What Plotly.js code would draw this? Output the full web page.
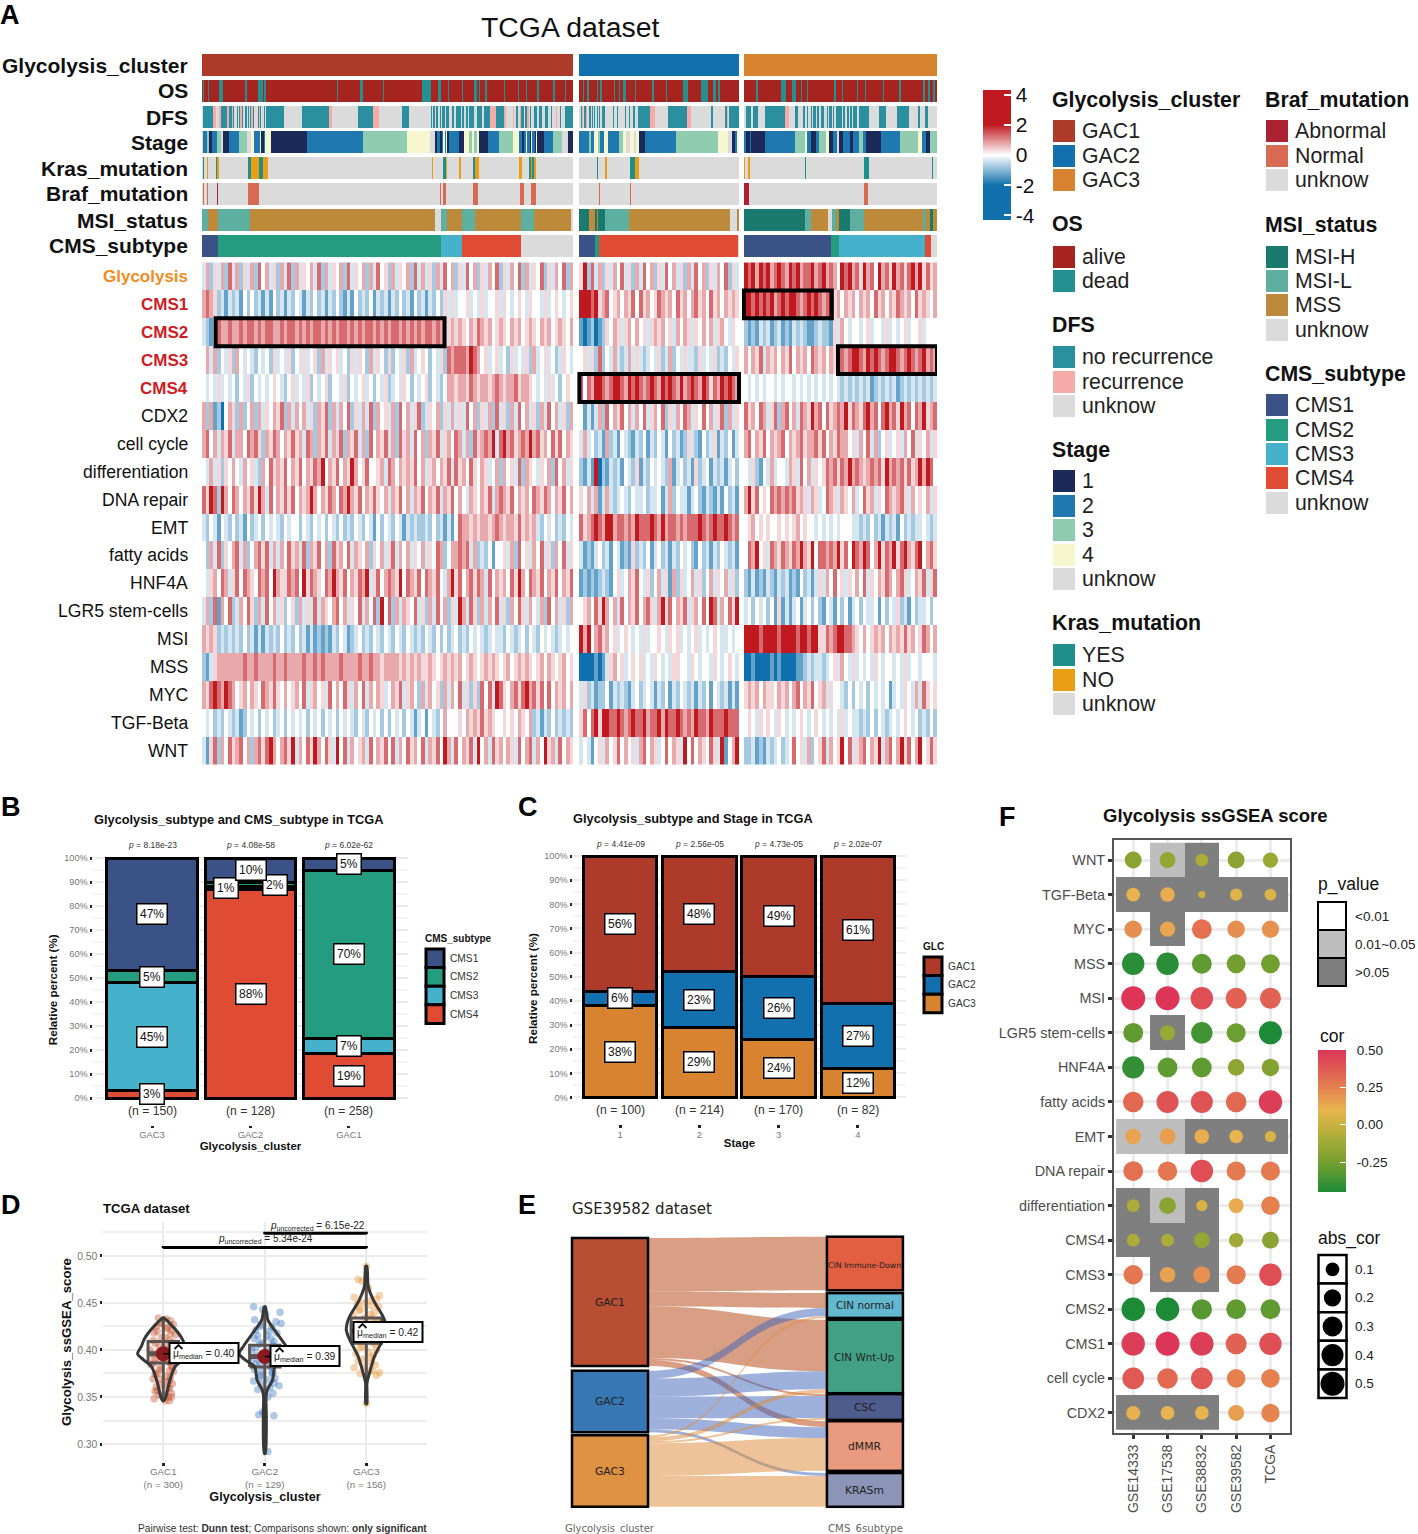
<!DOCTYPE html>
<html><head><meta charset="utf-8">
<script src="https://cdn.plot.ly/plotly-3.0.1.min.js"></script>
<style>html,body{margin:0;padding:0;background:#fff}</style></head>
<body><div id="chart" style="width:1418px;height:1534px"></div>
<script>
const W=1418,H=1534,FONT='"Liberation Sans",Arial,sans-serif';
/* ---------- Panel A data ---------- */
const clusterSizes=[300,129,156];
const annotRowNames=["Glycolysis_cluster","OS","DFS","Stage","Kras_mutation","Braf_mutation","MSI_status","CMS_subtype"];
const annotColors={
 "Glycolysis_cluster":{A:"#AE3B2A",B:"#1170AD",C:"#D88330"},
 "OS":{a:"#A62420",d:"#23918F"},
 "DFS":{n:"#2A909F",r:"#F5ABA8",u:"#DBDBDB"},
 "Stage":{A:"#1B2A58",B:"#1F78B0",C:"#90CDB0",D:"#F6F7CF",u:"#DBDBDB"},
 "Kras_mutation":{y:"#1F8F8A",n:"#EA9D16",u:"#DBDBDB"},
 "Braf_mutation":{a:"#AD2233",n:"#D66A53",u:"#DBDBDB"},
 "MSI_status":{h:"#1B7A6E",l:"#5EAFA0",s:"#BD8A3C",u:"#DBDBDB"},
 "CMS_subtype":{p:"#3A5285",q:"#249C80",r:"#46B1CB",t:"#DF4B33",u:"#DBDBDB"}};
const glycRuns=["A300","B129","C156"];
const osRuns=["a1 d1 a3 d1 a8 d3 a18 d1 a9 d4 a1 d2 a57 d1 a18 d2 a16 d1 a31 d7 a6 d2 a6 d1 a10 d1 a9 d2 a2 d1 a4 d1 a14 d1 a10 d1 a6 d1 a8 d1 a12 d1 a8 d1 a20",
 "a3 d1 a2 d2 a6 d1 a2 d1 a10 d1 a3 d1 a2 d3 a7 d1 a13 d1 a10 d1 a13 d4 a10 d6 a4 d2 a2 d2 a30",
 "a10 d1 a19 d4 a5 d3 a4 d1 a4 d1 a21 d1 a5 d1 a11 d1 a6 d1 a13 d1 a12 d2 a18 d1 a3 d1 a3 d1 a5"];
const dfsRuns=["u1 n8 r2 u3 r1 n5 r2 n2 r1 n1 u2 n1 u1 n1 r1 n1 u2 n1 u1 n1 u1 n1 r1 n1 u3 n1 r1 n1 u2 n1 u1 n14 u15 n22 r2 u21 n12 r5 u19 n5 u18 n1 u1 n1 u1 n2 u1 n1 u1 n2 u1 n2 n1 u2 n2 u1 n4 u1 n2 u1 n2 u1 n4 u2 n4 u2 n5 r5 n6 r2 u5 r1 u2 n1 u2 r1 n2 u1 n2 r1 u1 n1 u2 n3 u1 n3 u2 n3 u2 n1 u3 r1 u2 n1 u3 n1",
 "u1 n1 r1 u1 n1 r1 u2 n1 u1 n1 u1 n1 u1 n1 u1 n1 u1 n3 u6 n1 u2 n1 u6 n1 u2 n1 u2 n2 u2 n10 r4 u11 n15 r3 u16 n2 u10 n1 r1 u1 n1",
 "u2 n4 u1 n4 u6 n16 r3 u5 n3 u4 n1 u2 n1 u2 n1 u1 n2 u1 n2 u1 n3 u2 n1 u1 n2 u1 n1 u1 n5 u1 n2 u1 n2 u1 n1 u1 n3 u2 n8 u8 n6 u9 n9 u8 n1 u4 n3 u2"];
const stageRuns=["u1 B3 C2 A2 B4 C3 u2 A5 B8 C6 u4 D2 B5 D1 A2 B1 D1 D4 A29 B45 C36 D18 u4 A2 B2 A2 B1 D1 B1 D1 A2 B8 A4 D1 D3 C2 D2 C2 D2 A7 B9 C11 D5 B3 A1 B2 D1 B2 A1 D1 B2 A1 D1 A5 B8 C7 u5 A2",
 "B8 C1 B3 D3 C2 B3 D3 B9 C3 D3 u3 D3 u2 D2 A5 B25 C34 D8 u3 A3 B1 D3",
 "B2 A3 B1 A11 B24 C8 D2 B3 A4 B3 C5 D3 A3 B3 u2 A3 B6 A2 B5 C3 B3 A12 B15 C15 D3 B3 A3 C2"];
const krasRuns=["u1 y1 u2 n1 u6 y1 n2 u23 y3 n6 y3 n4 u133 n1 u8 y2 n1 u10 n1 u10 y2 n3 u32 n3 u5 y2 n1 y1 n2 u30",
 "u14 y1 u6 n1 u19 y4 n3 u81","n1 u2 n2 u44 y1 u47 y4 u51 y1 u3"];
const brafRuns=["u1 n1 u2 n1 u7 a1 u24 n9 u146 n1 u2 n2 u22 n4 u34 n3 u6 n4 u30","u16 n1 u24 n1 u87","a4 u93 n3 u56"];
const msiRuns=["l5 s8 l26 s149 u5 l5 s12 l11 s37 l10 s30 u2","h8 s5 h1 s1 h6 l19 s82 u5 s2","h49 l5 s14 u3 l3 s3 h9 l11 s48 l2 s3 h3 s3"];
const cmsRuns=["p13 q180 r17 t48 u42","p13 q3 t112 u1","p70 q7 r69 t5 u5"];
const annotRuns=[glycRuns,osRuns,dfsRuns,stageRuns,krasRuns,brafRuns,msiRuns,cmsRuns];

const heatRowNames=["Glycolysis","CMS1","CMS2","CMS3","CMS4","CDX2","cell cycle","differentiation","DNA repair","EMT","fatty acids","HNF4A","LGR5 stem-cells","MSI","MSS","MYC","TGF-Beta","WNT"];
/* one digit per three samples: 0 = strong blue, 4 = white, 8 = strong red */
const heatLevels=[-2,-1.3,-.75,-.35,0,.35,.75,1.3,2];
const heatGAC1=[
"3625362736 2536274635 2637263546 3726354627 3546263745 2635462736 3526374625 3746253647 2536472635 4725364726",
"6765231323 1424231314 2313243132 4231324213 1423241323 1324231423 1324253534 4534353445 3543454354 4353454345",
"3213766766 7677676776 6767767676 7767676776 7676776767 6776767676 7767655656 5465765645 6546564565 4656456546",
"4636243526 4343243425 3435243534 5263545342 5354263542 5243526345 4243527677 7687645345 3425343526 3453423543",
"4343534342 4352434345 4324534352 4345244352 4345342435 2343542434 5243246656 6576566567 6566756654 3435342454",
"6261204652 6246263546 5726364635 2657263647 2536372645 3627463572 3546253635 3746253627 3526374635 2637463526",
"6746365736 6476752657 6465756376 2657365726 5736274657 3627563746 2657356476 3627567683 7867567686 7564757465",
"4363525464 3645326475 6574657465 7684657465 8645744563 7646565746 3564657375 6475465346 2645372654 3546274635",
"7587286476 4657586374 6575746568 6465764768 6574657546 3657463657 4657365746 4365465736 7657465647 6576465746",
"3243143242 3142342434 3243442432 4342432423 2432431424 3243132322 3242313147 6656566567 6566575656 3243423243",
"4263725467 3624675736 3647563726 5746275647 3654625463 5736463546 3547624667 6736232414 4536274536 4735264735",
"4356476357 4765476748 6557674857 6547686574 6576835746 7658476574 7657436857 4675763746 5647586476 5746574657",
"3627164723 6475263746 3524526353 7365467463 5473647284 7263654735 2637462538 6375263647 3526475364 3627463526",
"6565232323 2423131323 2423242313 1212132431 2342324324 3243243232 4324242342 3243432343 3243234243 2434323434",
"2135666666 6766766667 6676666766 7676666766 6676676656 6665656565 5654565656 4565456565 4564565654 5646545645",
"6578768764 5646547657 5464564735 6453746475 3647364653 4657356426 3645263647 3525274738 7546757867 5747465646",
"4342324323 1243424342 3424343424 3424342434 3243243424 2434243134 1432464445 4656575654 4545465462 3132423232",
"3157264756 7462675786 4675836475 8647538473 6456374657 4736475647 3657486374 6573846375 6465374673 6485637465"];
const heatGAC2=[
"5827362536 4735263746 2537463526 3746253647 253",
"8887856745 6465747564 5765647564 6756475646 565",
"1012012546 5356464535 6564536465 3546463564 354",
"4535272436 3236353234 3523624353 3253435232 435",
"7476887678 8768787678 7687876867 8768757687 876",
"4131362746 5746364735 6472536476 3547463572 635",
"3634231623 1432132413 2431423125 3214235132 413",
"2131802132 3143251324 3432613423 1523413231 342",
"5463613632 3432433423 3413624331 3421321314 231",
"7567876886 7767687778 7686776767 7787678778 767",
"3121342314 3121523241 3423132434 2142313243 231",
"1212123214 5346574352 4635162534 6352463546 352",
"4564758646 3746574675 3685746573 5647487364 758",
"8684675645 3454343534 4543545343 4534345433 434",
"0000101356 4534545343 5434355443 5434435434 543",
"3523122413 2321342343 1324132432 3132414323 131",
"5747858877 8767877867 7868778767 6877687778 777",
"3431453645 7464536746 5347465384 7465475381 468"];
const heatGAC3=[
"8786878678 7687867786 7867648786 7586748675 8675786857 56",
"8878787867 8788767878 7678564656 4656475646 5765647565 46",
"2121323123 1213232112 3221536434 4345344353 4345344534 44",
"6465736564 6574656476 5646587678 8768787678 8767876786 76",
"4343434434 3443434343 4343432323 2323123232 3123232323 23",
"7564763572 6746376586 7475676857 6578674786 7586747685 67",
"6746574656 7465675667 5746576645 3647362453 4536473546 35",
"4352143634 4365374635 4576757686 7656767586 7675756868 74",
"6857454767 6767565365 3476536546 3475635476 5675364546 35",
"4564545445 4545645443 4343434443 3232423132 3142323343 23",
"4768453765 7657686584 7767685748 7687468576 8578657846 75",
"2131213213 2312142313 5364745354 6473546576 4675346573 57",
"3424342415 1313413424 2143142413 4243341424 3523142334 24",
"8888788887 8888788788 5576788776 5464565646 5657564576 46",
"0010000101 0000112323 3234536435 3434354344 3435344344 43",
"5656465546 5646746574 5635443242 4342434341 3435436375 45",
"4543545435 4343454345 4343435343 3232424323 4345434232 42",
"2231213234 2347453624 5736458473 5674658367 4685746845 75"];
const heatBoxes=[{row:"CMS2",from:11,to:196,cluster:0},{row:"CMS4",from:0,to:129,cluster:1},{row:"CMS1",from:0,to:71,cluster:2},{row:"CMS3",from:76,to:156,cluster:2}];

/* ---------- Panels B, C ---------- */
const bCategories=["GAC3","GAC2","GAC1"];
const bSeries=["CMS4","CMS3","CMS2","CMS1"];
const bColors=["#DF4B33","#46B1CB","#249C80","#3A5285"];
const bValues=[[3,87,18.5],[45,1,6.5],[5,2,70],[47,10,5]];
const bLabels=[[3,88,19],[45,1,7],[5,2,70],[47,10,5]];
const bN=["(n = 150)","(n = 128)","(n = 258)"];
const bP=["8.18e-23","4.08e-58","6.02e-62"];
const cCategories=["1","2","3","4"];
const cSeries=["GAC3","GAC2","GAC1"];
const cColors=["#D88330","#1170AD","#AE3B2A"];
const cValues=[[38,29,24,12],[6,23,26,27],[56,48,50,61]];
const cLabels=[[38,29,24,12],[6,23,26,27],[56,48,49,61]];
const cN=["(n = 100)","(n = 214)","(n = 170)","(n = 82)"];
const cP=["4.41e-09","2.56e-05","4.73e-05","2.02e-07"];
const pctTicks=[0,10,20,30,40,50,60,70,80,90,100];

/* ---------- Panel D ---------- */
const dGroups=["GAC1","GAC2","GAC3"];
const dN=["(n = 300)","(n = 129)","(n = 156)"];
const dPointColors=["#C8552F","#3F7CC4","#E8963A"];
const dProfileY=[
 [.346,.350,.357,.368,.382,.390,.396,.404,.411,.418,.428,.434],
 [.290,.330,.350,.357,.368,.382,.390,.396,.404,.418,.432,.446],
 [.343,.365,.375,.393,.407,.415,.421,.428,.435,.453,.467,.489]];
const dProfileW=[
 [.005,.025,.040,.066,.115,.200,.253,.215,.190,.148,.066,.005],
 [.005,.015,.012,.023,.076,.100,.200,.253,.210,.118,.030,.005],
 [.005,.007,.030,.080,.145,.180,.197,.190,.167,.070,.020,.005]];
const dQuart=[[.386,.396,.409],[.382,.393,.405],[.407,.420,.434]];
const dMedianLabel=["0.40","0.39","0.42"];
const dPointsY=[
 [.434,.433,.431,.429,.427,.425,.423,.421,.418,.416,.413,.410,.408,.405,.403,.400,.398,.396,.394,.392,.389,.387,.384,.382,.379,.377,.374,.371,.369,.366,.364,.361,.359,.356,.354,.352,.350,.348,.346,.346,
  .428,.424,.420,.417,.413,.410,.407,.404,.401,.399,.397,.395,.393,.391,.388,.386,.383,.381,.378,.375,.372,.369,.367,.363,.360,.357,.353,.350],
 [.446,.443,.440,.432,.430,.428,.427,.424,.421,.418,.415,.412,.409,.406,.403,.400,.397,.394,.391,.388,.385,.382,.379,.376,.373,.370,.367,.365,.362,.358,.354,.350,.334,.331,.330,.292,
  .438,.425,.420,.415,.412,.408,.405,.402,.399,.396,.393,.391,.388,.385,.382,.378,.375,.371,.368,.364,.360,.356],
 [.489,.475,.473,.458,.456,.454,.452,.449,.446,.443,.440,.437,.434,.431,.428,.424,.420,.416,.412,.408,.404,.400,.396,.392,.388,.384,.381,.378,.376,.375,.373,.343,
  .466,.450,.447,.442,.438,.434,.430,.426,.422,.418,.414,.410,.406,.402,.398,.394,.390,.386,.382,.378]];
const dPointsX=[
 [-.05,.03,.07,-.02,.10,-.07,.04,.08,-.09,.12,.02,-.10,.09,-.04,.07,-.13,.11,-.06,.02,.13,-.09,.06,-.12,.09,-.04,.10,-.08,.07,-.10,.04,.09,-.07,.06,-.08,.08,-.04,.08,-.09,.02,.06,
  -.02,.04,-.06,.07,-.02,.06,-.08,.03,.09,-.04,.06,-.10,.10,-.03,.05,-.09,.08,-.02,.06,-.06,.03,-.04,.06,-.02,.05,-.06,.02,.05],
 [-.11,-.02,.15,-.10,.11,.16,-.04,.07,-.09,.12,.02,-.10,.09,-.05,.08,-.13,.10,-.08,.02,.13,-.09,.06,-.10,.08,-.04,.10,-.11,.09,.14,-.07,.08,.03,-.02,-.06,.09,.03,
  .01,-.04,.05,-.07,.06,-.03,.08,-.09,.04,-.02,.10,-.10,.03,-.05,.06,-.03,.07,-.05,.03,-.04,.05,.0],
 [.0,-.08,-.04,.13,-.12,.10,.02,-.09,.12,-.06,.08,-.13,.05,.11,-.08,.10,-.05,.13,-.10,.08,-.04,.10,-.10,.05,-.08,.09,-.12,.06,.13,-.06,.10,.0,
  .02,-.03,.05,-.07,.04,-.02,.09,-.05,.03,-.10,.06,-.03,.08,-.06,.02,.07,-.04,.05,-.02,.03]];
const dBrackets=[{a:0,b:2,y:.509,p:"5.34e-24"},{a:1,b:2,y:.524,p:"6.15e-22"}];

/* ---------- Panel E ---------- */
const eNodes=["GAC1","GAC2","GAC3","CIN Immune-Down","CIN normal","CIN Wnt-Up","CSC","dMMR","KRASm"];
const eNodeColors=["#B94F32","#3778B4","#DE9140","#E25F42","#62B8CF","#42A085","#4D5C8D","#EA9A7E","#8C95B8"];
const eSource=[0,0,0,0,0, 1,1,1,1,1, 2,2,2,2,2];
const eTarget=[3,4,5,6,7, 4,5,6,7,8, 4,5,6,7,8];
const eValue=[54,15,52,2,6, 8,18,22,11,3, 2,4,2,33,31];
const eLinkColors=["rgba(190,90,45,.58)","rgba(60,100,185,.50)","rgba(222,140,60,.52)"];
const eNodeX=[.1148,.1148,.1148,.885,.885,.885,.885,.885,.885];
const eNodeY=[.2435,.6107,.8672,.1015,.2565,.4446,.631,.775,.937];

/* ---------- Panel F ---------- */
const fCols=["GSE14333","GSE17538","GSE38832","GSE39582","TCGA"];
const fRows=["WNT","TGF-Beta","MYC","MSS","MSI","LGR5 stem-cells","HNF4A","fatty acids","EMT","DNA repair","differentiation","CMS4","CMS3","CMS2","CMS1","cell cycle","CDX2"];
const fCor=[
 [-.19,-.16,-.08,-.19,-.14],[.10,.12,.012,.07,.06],[.21,.14,.30,.21,.20],[-.42,-.42,-.30,-.26,-.26],
 [.50,.50,.42,.35,.35],[-.30,-.14,-.37,-.27,-.45],[-.40,-.30,-.30,-.18,-.21],[.33,.40,.40,.33,.47],
 [.15,.16,.12,.10,.05],[.30,.28,.42,.27,.27],[-.08,-.19,.05,.13,.25],[-.08,-.08,-.16,-.12,-.19],
 [.28,.15,.20,.27,.42],[-.47,-.47,-.32,-.30,-.30],[.47,.50,.47,.35,.41],[.38,.33,.38,.25,.25],[.11,.10,.10,.16,.24]];
/* 1 = 0.01~0.05, 2 = >0.05, null = <0.01 */
const fP=[[null,1,2,null,null],[2,2,2,2,2],[null,2,null,null,null],[null,null,null,null,null],[null,null,null,null,null],
 [null,2,null,null,null],[null,null,null,null,null],[null,null,null,null,null],[1,1,2,2,2],[null,null,null,null,null],
 [2,1,2,null,null],[2,2,2,null,null],[null,2,2,null,null],[null,null,null,null,null],[null,null,null,null,null],[null,null,null,null,null],[2,2,2,null,null]];

/* ---------- helpers ---------- */
const px=x=>x/W, py=y=>1-y/H;
const annotations=[],shapes=[],traces=[];
function txt(x,y,text,o={}){const a=o.anchor||'left';const dx=a==='left'?-2:a==='right'?2:0;
 annotations.push({xref:'paper',yref:'paper',x:px(x+dx),y:py(y),text:o.bold?'<b>'+text+'</b>':text,showarrow:false,
 xanchor:a,yanchor:'middle',textangle:o.angle||0,font:{family:o.family||FONT,size:o.size||12,color:o.color||'#111'}});}
function rect(x0,y0,x1,y1,fill,line,lw){shapes.push({type:'rect',xref:'paper',yref:'paper',x0:px(x0),x1:px(x1),y0:py(y0),y1:py(y1),fillcolor:fill,line:{color:line||fill,width:lw===undefined?0:lw},layer:'above'});}

/* ---------- Panel A ---------- */
const offsets=[0,305,438];
const totalX=594;
const xEdges=Array.from({length:totalX+1},(_,i)=>i);
function expandRuns(list,letters,index){
 const out=new Array(totalX).fill(null);
 list.forEach((s,c)=>{let p=0,last=null;
  s.trim().split(/\s+/).forEach(t=>{const k=t[0],n=+t.slice(1);last=k;
    for(let i=0;i<n&&p<clusterSizes[c];i++,p++)out[offsets[c]+p]=index[letters[k]];});
  for(;p<clusterSizes[c];p++)out[offsets[c]+p]=index[letters[last]];});
 return out;}
const allColors=[];const colorIndex={};
annotRowNames.forEach(n=>Object.values(annotColors[n]).forEach(c=>{if(!(c in colorIndex)){colorIndex[c]=allColors.length;allColors.push(c);}}));
const N=allColors.length;
const discrete=[];allColors.forEach((c,i)=>{discrete.push([i/N,c]);discrete.push([(i+1)/N,c]);});
const annotTops=[54,80,106,131,157,183,209,235],ROWH=22;
const aY=[],aZ=[];
annotRowNames.forEach((n,i)=>{aY.push(annotTops[i]);aY.push(annotTops[i]+ROWH);
 aZ.push(expandRuns(annotRuns[i],annotColors[n],colorIndex));
 if(i<7)aZ.push(new Array(totalX).fill(null));});
traces.push({type:'heatmap',x:xEdges,y:aY,z:aZ,zmin:-.5,zmax:N-.5,colorscale:discrete,showscale:false,hoverinfo:'skip',xaxis:'x',yaxis:'y'});
const HEAT_TOP=262.5,HEAT_H=27.9;
const heatColorscale=[[0,'#1070AD'],[2.3/8.6,'#1070AD'],[.5,'#FFFFFF'],[6.3/8.6,'#C01A20'],[1,'#C01A20']];
const hZ=heatRowNames.map((n,r)=>{const row=new Array(totalX).fill(null);
 [heatGAC1,heatGAC2,heatGAC3].forEach((src,c)=>{const s=src[r].replace(/\s/g,'');
  for(let i=0;i<clusterSizes[c];i++){const d=s[Math.min(Math.floor(i/3),s.length-1)];row[offsets[c]+i]=heatLevels[+d];}});
 return row;});
const hY=heatRowNames.map((_,i)=>HEAT_TOP+i*HEAT_H);hY.push(HEAT_TOP+18*HEAT_H);
traces.push({type:'heatmap',x:xEdges,y:hY,z:hZ,zmin:-4.3,zmax:4.3,colorscale:heatColorscale,hoverinfo:'skip',xaxis:'x',yaxis:'y',
 colorbar:{x:px(983),xanchor:'left',y:py(90),yanchor:'top',len:130,lenmode:'pixels',thickness:28,thicknessmode:'pixels',outlinewidth:0,xpad:0,ypad:0,
  tickvals:[4,2,0,-2,-4],ticktext:['4','2','0','-2','-4'],ticks:'inside',ticklen:7,tickwidth:1.5,tickcolor:'#fff',tickfont:{family:FONT,size:21,color:'#111'}}});
[95,125,156,186,216].forEach(y=>{shapes.push({type:'line',xref:'paper',yref:'paper',x0:px(983),x1:px(990),y0:py(y),y1:py(y),line:{color:'#fff',width:1.5},layer:'above'});});
heatBoxes.forEach(b=>{const r=heatRowNames.indexOf(b.row);
 shapes.push({type:'rect',xref:'x',yref:'y',x0:offsets[b.cluster]+b.from,x1:offsets[b.cluster]+b.to,y0:hY[r],y1:hY[r+1],fillcolor:'rgba(0,0,0,0)',line:{color:'#000',width:4},layer:'above'});});
annotRowNames.forEach((n,i)=>txt(188,annotTops[i]+11,n,{anchor:'right',bold:true,size:21}));
heatRowNames.forEach((n,i)=>{const cms=/^CMS\d/.test(n);const g=n==='Glycolysis';
 txt(188,HEAT_TOP+(i+.5)*HEAT_H,n,{anchor:'right',bold:cms||g,size:(cms||g)?17:17.6,color:g?'#F28C1E':cms?'#D01C24':'#111'});});
txt(570,27,'TCGA dataset',{anchor:'center',size:28.4});

/* legends A */
function legendGroup(x,titleY,title,items,colors,ys){
 txt(x-1,titleY,title,{bold:true,size:21.3});
 items.forEach((t,i)=>{rect(x,ys[i]-11,x+22,ys[i]+11,colors[i]);txt(x+29,ys[i],t,{size:21.3,color:'#222'});});}
legendGroup(1053,100,'Glycolysis_cluster',['GAC1','GAC2','GAC3'],Object.values(annotColors["Glycolysis_cluster"]),[131,156,180]);
legendGroup(1053,224,'OS',['alive','dead'],Object.values(annotColors["OS"]),[257,281]);
legendGroup(1053,325,'DFS',['no recurrence','recurrence','unknow'],Object.values(annotColors["DFS"]),[357,382,406]);
legendGroup(1053,450,'Stage',['1','2','3','4','unknow'],Object.values(annotColors["Stage"]),[481,506,530,555,579]);
legendGroup(1053,623,'Kras_mutation',['YES','NO','unknow'],Object.values(annotColors["Kras_mutation"]),[655,680,704]);
legendGroup(1266,100,'Braf_mutation',['Abnormal','Normal','unknow'],Object.values(annotColors["Braf_mutation"]),[131,156,180]);
legendGroup(1266,225,'MSI_status',['MSI-H','MSI-L','MSS','unknow'],Object.values(annotColors["MSI_status"]),[257,281,305,330]);
legendGroup(1266,374,'CMS_subtype',['CMS1','CMS2','CMS3','CMS4','unknow'],Object.values(annotColors["CMS_subtype"]),[405,430,454,478,503]);

/* ---------- Stacked bars ---------- */
function stacked(xa,ya,cats,series,colors,values,labels,ns,ps,nY,pY,xfun,width,overrides){
 series.forEach((s,i)=>traces.push({type:'bar',name:s,x:cats,y:values[i],width:width,xaxis:xa,yaxis:ya,marker:{color:colors[i],line:{color:'#000',width:3}},hoverinfo:'skip',showlegend:false}));
 cats.forEach((c,j)=>{let cum=0;
  series.forEach((s,i)=>{const v=values[i][j],key=j+'-'+i,ov=overrides[key]||{};
   annotations.push({xref:xa,yref:ya,x:j+(ov.dx||0),y:ov.y!==undefined?ov.y:cum+v/2,text:labels[i][j]+'%',showarrow:false,bgcolor:'#fff',bordercolor:'#000',borderwidth:1.5,borderpad:2.5,font:{family:FONT,size:12,color:'#111'}});
   cum+=v;});
  txt(xfun(j),nY,ns[j],{anchor:'center',size:12.2,color:'#333'});
  txt(xfun(j),pY,'<i>p</i> = '+ps[j],{anchor:'center',size:8.5,color:'#333'});});
}
function barAxes(dx,dy,xr,yr){
 return [{domain:[px(dx[0]),px(dx[1])],range:xr,type:'category',categoryorder:'array',ticks:'outside',ticklen:2.5,tickwidth:2.5,tickcolor:'#222',showline:false,showgrid:false,zeroline:false,fixedrange:true,ticklabelstandoff:-1,tickfont:{family:FONT,size:9.4,color:'#777'}},
 {domain:[py(dy[1]),py(dy[0])],range:yr,tickvals:pctTicks,ticktext:pctTicks.map(v=>v+'%'),ticks:'outside',ticklen:2.5,tickwidth:2.5,tickcolor:'#222',showline:false,zeroline:false,gridcolor:'#EBEBEB',gridwidth:2,tickfont:{family:FONT,size:9.2,color:'#777'},
  minor:{tickvals:[5,15,25,35,45,55,65,75,85,95],showgrid:true,gridcolor:'#F3F3F3',gridwidth:1.5,ticks:''},fixedrange:true}];}
const [xb,yb]=barAxes([93,408],[855,1124.5],[-.6,2.6],[-11,101.25]);
xb.categoryarray=bCategories;xb.anchor='y2';yb.anchor='x2';
xb.title={text:'<b>Glycolysis_cluster</b>',standoff:0,font:{family:FONT,size:11.5,color:'#111'}};
yb.title={text:'<b>Relative percent (%)</b>',standoff:4,font:{family:FONT,size:11.6,color:'#111'}};
const [xc,yc]=barAxes([573,906],[853,1124],[-.593,3.606],[-11,101.25]);
xc.categoryarray=cCategories;xc.anchor='y3';yc.anchor='x3';
xc.title={text:'<b>Stage</b>',standoff:0,font:{family:FONT,size:11.5,color:'#111'}};
yc.title={text:'<b>Relative percent (%)</b>',standoff:4,font:{family:FONT,size:11.6,color:'#111'}};
stacked('x2','y2',bCategories,bSeries,bColors,bValues,bLabels,bN,bP,1111,845,j=>152+98.3*j,.92,{'1-1':{dx:-.25,y:87.5},'1-2':{dx:.25,y:88.6}});
stacked('x3','y3',cCategories,cSeries,cColors,cValues,cLabels,cN,cP,1110,844,j=>620+79.3*j,.93,{});
txt(238.5,819,'Glycolysis_subtype and CMS_subtype in TCGA',{anchor:'center',bold:true,size:12.8});
txt(692.5,818,'Glycolysis_subtype and Stage in TCGA',{anchor:'center',bold:true,size:12.8});
function miniLegend(x,title,titleY,items,colors,y0,rowH){
 txt(x,titleY,title,{bold:true,size:10});
 items.forEach((t,i)=>{rect(x+1,y0+i*rowH,x+19,y0+(i+1)*rowH,colors[i],'#000',3);txt(x+25,y0+(i+.5)*rowH,t,{size:10.2,color:'#333'});});}
miniLegend(425,'CMS_subtype',938,['CMS1','CMS2','CMS3','CMS4'],['#3A5285','#249C80','#46B1CB','#DF4B33'],949,18.6);
miniLegend(923,'GLC',946,['GAC1','GAC2','GAC3'],['#AE3B2A','#1170AD','#D88330'],957,18.6);

/* ---------- Panel D ---------- */
dGroups.forEach((g,i)=>{
 traces.push({type:'scatter',mode:'markers',name:g,x:dPointsX[i].map(v=>i+v),y:dPointsY[i],xaxis:'x4',yaxis:'y4',marker:{size:7.5,color:dPointColors[i],opacity:.42},hoverinfo:'skip',showlegend:false});
 const top=dProfileY[i][dProfileY[i].length-1],bot=dProfileY[i][0],hw=.15,[q1,m,q3]=dQuart[i];
 const lineC='#5C5350';
 traces.push({type:'scatter',mode:'lines',x:[i,i],y:[bot,top],xaxis:'x4',yaxis:'y4',line:{color:lineC,width:3},hoverinfo:'skip',showlegend:false});
 traces.push({type:'scatter',mode:'lines',x:[i-hw,i+hw,i+hw,i-hw,i-hw],y:[q1,q1,q3,q3,q1],xaxis:'x4',yaxis:'y4',line:{color:lineC,width:3},hoverinfo:'skip',showlegend:false});
 traces.push({type:'scatter',mode:'lines',x:[i-hw,i+hw],y:[m,m],xaxis:'x4',yaxis:'y4',line:{color:lineC,width:5},hoverinfo:'skip',showlegend:false});
 const left=dProfileY[i].map((y,k)=>i-dProfileW[i][k]),right=dProfileY[i].map((y,k)=>i+dProfileW[i][k]).reverse();
 traces.push({type:'scatter',mode:'lines',x:left.concat(right,[left[0]]),y:dProfileY[i].concat(dProfileY[i].slice().reverse(),[dProfileY[i][0]]),xaxis:'x4',yaxis:'y4',line:{color:'#383838',width:3,shape:'spline',smoothing:.8},hoverinfo:'skip',showlegend:false});
 traces.push({type:'scatter',mode:'markers',x:[i],y:[m],xaxis:'x4',yaxis:'y4',marker:{size:15,color:'#8B1A1F'},hoverinfo:'skip',showlegend:false});
 traces.push({type:'scatter',mode:'lines',x:[i,i+.25],y:[m,m],xaxis:'x4',yaxis:'y4',line:{color:'#000',width:1.5},hoverinfo:'skip',showlegend:false});
});
const dLabelX=[204,305,388],dLabelY=[1353,1356,1332];
dMedianLabel.forEach((v,i)=>{const cx=dLabelX[i],cy=dLabelY[i];
 rect(cx-34.5,cy-10,cx+34.5,cy+10,'#fff','#000',2);
 const hx=cx-25.5,hy=cy-5;
 shapes.push({type:'path',xref:'paper',yref:'paper',layer:'above',line:{color:'#111',width:1.8},
  path:`M ${px(hx-4)} ${py(hy+1)} L ${px(hx)} ${py(hy-3)} L ${px(hx+4)} ${py(hy+1)}`});
 annotations.push({xref:'paper',yref:'paper',x:px(cx),y:py(cy+1),xanchor:'center',yanchor:'middle',text:'μ<sub>median</sub> = '+v,showarrow:false,font:{family:FONT,size:10.3,color:'#222'}});});
dBrackets.forEach(b=>{traces.push({type:'scatter',mode:'lines',x:[b.a,b.a,b.b,b.b],y:[b.y-.001,b.y,b.y,b.y-.001],xaxis:'x4',yaxis:'y4',line:{color:'#000',width:3},hoverinfo:'skip',showlegend:false});});
txt(265,1239,'<i>p</i><sub>uncorrected</sub> = 5.34e-24',{anchor:'center',size:10,color:'#222'});
txt(317,1226,'<i>p</i><sub>uncorrected</sub> = 6.15e-22',{anchor:'center',size:10,color:'#222'});
txt(103,1208,'TCGA dataset',{bold:true,size:13.2});
txt(282,1528,'Pairwise test: <b>Dunn test</b>; Comparisons shown: <b>only significant</b>',{anchor:'center',size:10.2,color:'#333'});

/* ---------- Panel E ---------- */
traces.push({type:'sankey',arrangement:'fixed',domain:{x:[px(572),px(903)],y:[py(1507),py(1236)]},hoverinfo:'skip',
 node:{color:eNodeColors,x:eNodeX,y:eNodeY,pad:2,thickness:76,line:{color:'#000',width:2.5}},
 link:{source:eSource,target:eTarget,value:eValue,color:eSource.map(s=>eLinkColors[s]),line:{width:0}}});
const eLabelX=[610,610,610,864.5,864.5,864.5,864.5,864.5,864.5],eLabelY=[1302,1401,1471,1265,1305,1357,1407,1446,1490];
eNodes.forEach((n,i)=>txt(eLabelX[i],eLabelY[i],n,{anchor:'center',family:'"DejaVu Sans",sans-serif',size:n.length>12?7.8:(i>2&&n.length>8?10.4:10.8),color:'#222'}));
txt(572,1209,'GSE39582 dataset',{family:'"DejaVu Sans",sans-serif',size:15,color:'#222'});
txt(609.5,1529,'Glycolysis_cluster',{anchor:'center',family:'"DejaVu Sans",sans-serif',size:10,color:'#666'});
txt(865,1529,'CMS_6subtype',{anchor:'center',family:'"DejaVu Sans",sans-serif',size:10.2,color:'#666'});

/* ---------- Panel F ---------- */
traces.push({type:'heatmap',x:fCols,y:fRows,z:fP,zmin:1,zmax:2,colorscale:[[0,'#BEBEBE'],[1,'#7F7F7F']],showscale:false,hoverinfo:'skip',xaxis:'x5',yaxis:'y5'});
const fX=[],fY=[],fC=[],fS=[];
const sizeOf=c=>6+18*Math.sqrt(Math.max(0,(Math.abs(c)-.01)/.49));
fRows.forEach((r,i)=>fCols.forEach((c,j)=>{fX.push(c);fY.push(r);fC.push(fCor[i][j]);fS.push(sizeOf(fCor[i][j]));}));
const fScale=[[0,'#1D8A38'],[.21,'#76A02F'],[.474,'#C8B23E'],[.58,'#E8B44F'],[.737,'#E5804F'],[1,'#DC3558']];
traces.push({type:'scatter',mode:'markers',x:fX,y:fY,xaxis:'x5',yaxis:'y5',hoverinfo:'skip',showlegend:false,
 marker:{size:fS,color:fC,cmin:-.45,cmax:.5,colorscale:fScale,opacity:1,line:{width:0},
  colorbar:{x:px(1318),xanchor:'left',y:py(1050),yanchor:'top',len:142,lenmode:'pixels',thickness:28,thicknessmode:'pixels',outlinewidth:0,xpad:0,ypad:0,
   tickvals:[.5,.25,0,-.25],ticktext:['\u00A0\u00A00.50','\u00A0\u00A00.25','\u00A0\u00A00.00','\u00A0\u00A0-0.25'],ticks:'inside',ticklen:6,tickwidth:1,tickcolor:'#fff',tickfont:{family:FONT,size:13.5,color:'#222'}}}});
txt(1103,815,'Glycolysis ssGSEA score',{bold:true,size:18.5});
txt(1318,885,'p_value',{size:17.5,color:'#111'});
[['#FFFFFF','<0.01',902],['#BEBEBE','0.01~0.05',930],['#7F7F7F','>0.05',958]].forEach(a=>{rect(1318,a[2],1346,a[2]+28,a[0],'#000',2);txt(1355,a[2]+14.5,a[1].replace('<','&lt;').replace('>','&gt;'),{size:13.5,color:'#222'});});
txt(1320,1036,'cor',{size:17.5,color:'#111'});
txt(1318,1238,'abs_cor',{size:17.5,color:'#111'});
const absLegend=[.1,.2,.3,.4,.5];
absLegend.forEach((v,i)=>{const y0=1255+i*28.6,d=sizeOf(v),cx=1332.5,cy=y0+14.3;
 rect(1318.5,y0,1346.5,y0+28.6,'#fff','#000',2.5);
 shapes.push({type:'circle',xref:'paper',yref:'paper',x0:px(cx-d/2),x1:px(cx+d/2),y0:py(cy+d/2),y1:py(cy-d/2),fillcolor:'#000',line:{width:0},layer:'above'});
 txt(1355,cy,v.toFixed(1),{size:13.5,color:'#222'});});
[['A',0,15],['B',1,807],['C',518,807],['D',1,1205],['E',518,1205],['F',999,817]].forEach(a=>txt(a[1],a[2],a[0],{bold:true,size:27,color:'#000'}));

const layout={width:W,height:H,margin:{l:0,r:0,t:0,b:0},paper_bgcolor:'#fff',plot_bgcolor:'rgba(0,0,0,0)',barmode:'stack',showlegend:false,font:{family:FONT},
 annotations,shapes,
 xaxis:{domain:[px(202),px(937)],range:[0,totalX],visible:false,fixedrange:true,anchor:'y'},
 yaxis:{domain:[py(765),py(54)],range:[765,54],visible:false,fixedrange:true,anchor:'x'},
 xaxis2:xb,yaxis2:yb,xaxis3:xc,yaxis3:yc,
 xaxis4:{domain:[px(103),px(427)],range:[-.594,2.598],anchor:'y4',tickvals:[0,1,2],ticktext:dGroups.map((g,i)=>g+'<br>'+dN[i]),ticks:'outside',ticklen:2.5,tickwidth:2.5,tickcolor:'#222',gridcolor:'#EBEBEB',gridwidth:2,zeroline:false,showline:false,fixedrange:true,ticklabelstandoff:-2,tickfont:{family:FONT,size:9.8,color:'#777'},
  title:{text:'<b>Glycolysis_cluster</b>',standoff:3,font:{family:FONT,size:12.6,color:'#111'}}},
 yaxis4:{domain:[py(1462),py(1222)],range:[.2809,.536],anchor:'x4',tickvals:[.3,.35,.4,.45,.5],ticktext:['0.30','0.35','0.40','0.45','0.50'],ticks:'outside',ticklen:2.5,tickwidth:2.5,tickcolor:'#222',gridcolor:'#EBEBEB',gridwidth:2,zeroline:false,showline:false,fixedrange:true,tickfont:{family:FONT,size:10.4,color:'#777'},
  minor:{tickvals:[.325,.375,.425,.475,.525],showgrid:true,gridcolor:'#EFEFEF',gridwidth:1.5,ticks:''},
  title:{text:'<b>Glycolysis_ssGSEA_score</b>',standoff:2,font:{family:FONT,size:13.2,color:'#111'}}},
 xaxis5:{domain:[px(1114),px(1290)],range:[-.56,4.57],anchor:'y5',type:'category',categoryorder:'array',categoryarray:fCols,tickangle:-90,ticks:'outside',ticklen:4,tickwidth:3,tickcolor:'#333',linecolor:'#555',linewidth:2,mirror:true,gridcolor:'#ECECEC',gridwidth:3,zeroline:false,fixedrange:true,tickfont:{family:FONT,size:14,color:'#4D4D4D'}},
 yaxis5:{domain:[py(1433),py(840)],range:[16.58,-.58],anchor:'x5',type:'category',categoryorder:'array',categoryarray:fRows,ticks:'outside',ticklen:4,tickwidth:3,tickcolor:'#333',linecolor:'#555',linewidth:2,mirror:true,gridcolor:'#ECECEC',gridwidth:3,zeroline:false,fixedrange:true,tickfont:{family:FONT,size:14.4,color:'#4D4D4D'}}
};
Plotly.newPlot('chart',traces,layout,{displayModeBar:false,responsive:false}).then(()=>{
 document.querySelectorAll('.sankey .node-label').forEach(e=>e.remove());
});
</script></body></html>
